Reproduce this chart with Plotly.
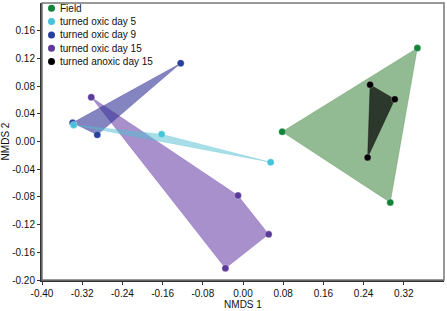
import plotly.graph_objects as go

# Data (NMDS coordinates)
field_x = [0.347, 0.078, 0.293]
field_y = [0.135, 0.014, -0.088]
d5_x = [-0.337, -0.162, 0.055]
d5_y = [0.024, 0.0105, -0.030]
d9_x = [-0.339, -0.124, -0.290]
d9_y = [0.027, 0.113, 0.0097]
d15_x = [-0.302, -0.010, 0.051, -0.035]
d15_y = [0.064, -0.078, -0.134, -0.183]
an_x = [0.253, 0.302, 0.248]
an_y = [0.082, 0.061, -0.023]

groups = [
    # name, x, y, marker color, fill color
    ("turned oxic day 15", d15_x, d15_y, "#5b3a99", "rgba(110,70,170,0.6)"),
    ("turned oxic day 9", d9_x, d9_y, "#25409e", "rgba(50,50,150,0.6)"),
    ("turned oxic day 5", d5_x, d5_y, "#45c3da", "rgba(80,190,210,0.5)"),
    ("Field", field_x, field_y, "#12843a", "rgba(40,120,40,0.5)"),
    ("turned anoxic day 15", an_x, an_y, "#000000", "rgba(0,0,0,0.7)"),
]
legend_order = ["Field", "turned oxic day 5", "turned oxic day 9",
                "turned oxic day 15", "turned anoxic day 15"]
x_ticks = [-0.40, -0.32, -0.24, -0.16, -0.08, 0.0, 0.08, 0.16, 0.24, 0.32]
y_ticks = [-0.20, -0.16, -0.12, -0.08, -0.04, 0.0, 0.04, 0.08, 0.12, 0.16]

fig = go.Figure()
for name, xs, ys, mc, fc in groups:
    fig.add_trace(go.Scatter(
        x=xs + [xs[0]], y=ys + [ys[0]], mode="lines", fill="toself",
        fillcolor=fc, line=dict(color=fc, width=0.5),
        showlegend=False, hoverinfo="skip"))
for name, xs, ys, mc, fc in groups:
    fig.add_trace(go.Scatter(
        x=xs, y=ys, mode="markers", name=name, showlegend=False,
        marker=dict(color=mc, size=7, line=dict(color="rgba(255,255,255,0.6)", width=0.5))))

# compact legend (annotations + circle shapes in paper coordinates)
colors = {g[0]: g[3] for g in groups}
W, H = 447, 311
l, r, t, b = 42, 3, 3, 31
pw, ph = W - l - r, H - t - b
shapes = [dict(type="rect", xref="paper", yref="paper", x0=0, y0=0, x1=1, y1=1,
               line=dict(color="#777", width=1.5), fillcolor="rgba(0,0,0,0)", layer="above")]
annotations = []
for i, name in enumerate(legend_order):
    cy = 8.3 + i * 13.3
    cx = 51.5
    yp = 1 - (cy - t) / ph
    xp = (cx - l) / pw
    rx = 3.5 / pw
    ry = 3.5 / ph
    shapes.append(dict(type="circle", xref="paper", yref="paper",
                       x0=xp - rx, x1=xp + rx, y0=yp - ry, y1=yp + ry,
                       fillcolor=colors[name], line=dict(width=0), layer="above"))
    annotations.append(dict(text=name, xref="paper", yref="paper",
                            x=(58 - l) / pw, y=yp, xanchor="left", yanchor="middle",
                            showarrow=False, font=dict(size=10, color="#111")))

font = "Liberation Sans, Arial, sans-serif"
fig.update_layout(
    width=W, height=H,
    margin=dict(l=l, r=r, t=t, b=b),
    paper_bgcolor="white", plot_bgcolor="white",
    font=dict(family=font, size=10, color="#111"),
    showlegend=False,
    xaxis=dict(range=[-0.40, 0.40], tickvals=x_ticks,
               ticktext=[f"{v:.2f}" for v in x_ticks],
               showgrid=False, zeroline=False, showline=True, linecolor="#333", linewidth=2,
               ticks="outside", ticklen=3, tickcolor="#333", automargin=False,
               title=dict(text="NMDS 1", font=dict(size=10), standoff=3)),
    yaxis=dict(range=[-0.20, 0.20], tickvals=y_ticks,
               ticktext=[f"{v:.2f}" for v in y_ticks],
               showgrid=False, zeroline=False, showline=True, linecolor="#333", linewidth=2,
               ticks="outside", ticklen=3, tickcolor="#333", automargin=False,
               title=dict(text="NMDS 2", font=dict(size=10), standoff=6)),
    shapes=shapes,
    annotations=annotations,
)
fig.write_html("out.html", config={"displayModeBar": False},
               post_script="document.body.style.margin='0';document.body.style.overflow='hidden';")
